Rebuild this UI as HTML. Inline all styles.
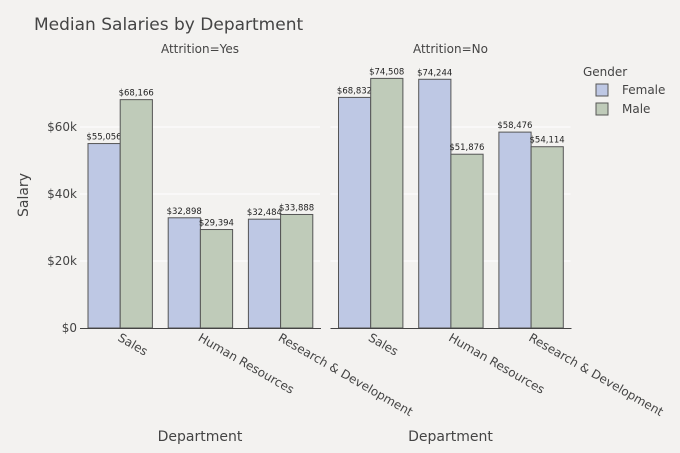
<!DOCTYPE html>
<html><head><meta charset="utf-8"><style>
body{margin:0;background:#f3f2f0;}
svg{display:block;font-family:"DejaVu Sans","Liberation Sans",sans-serif;}
</style></head><body>
<svg id="c" width="680" height="453"></svg>
<script>
const categories=["Sales","Human Resources","Research & Development"];
const facets=["Yes","No"];
const femaleYes=[55056,32898,32484];
const maleYes=[68166,29394,33888];
const femaleNo=[68832,74244,58476];
const maleNo=[74508,51876,54114];
const yTicks=[0,20000,40000,60000];
const yTickLabels=["$0","$20k","$40k","$60k"];
const NS="http://www.w3.org/2000/svg";
const svg=document.getElementById('c');
function mk(t,a,txt){const e=document.createElementNS(NS,t);for(const k in a)e.setAttribute(k,a[k]);if(txt!=null)e.textContent=txt;svg.appendChild(e);return e;}
const y0=328,pxPerUnit=67/20000;
function yS(v){return y0-v*pxPerUnit;}
const facetX=[80,330.5],band=80.2;
function xS(f,i){return facetX[f]+i*band;}
let t=mk('text',{x:34,y:30,'font-size':17,fill:'#444'},'Median Salaries by Department');

for(let f=0;f<2;f++){for(let k=1;k<yTicks.length;k++){const g=mk('line',{x1:facetX[f],x2:facetX[f]+240,y1:yS(yTicks[k]),y2:yS(yTicks[k]),stroke:'#fff','stroke-width':1});}}
yTicks.forEach((v,k)=>{const e=mk('text',{x:77,y:yS(v)+4,'font-size':12,fill:'#444','text-anchor':'end'},yTickLabels[k]);});
const series=[[femaleYes,maleYes],[femaleNo,maleNo]];
const colors=['#bec8e4','#bfcbb9'];
const fmt=v=>'$'+v.toLocaleString('en-US');
for(let f=0;f<2;f++){
 const ft=mk('text',{x:facetX[f]+120,y:53,'font-size':12,fill:'#444','text-anchor':'middle'},'Attrition='+facets[f]);
 
 for(let s=0;s<2;s++){series[f][s].forEach((v,i)=>{
  const x=xS(f,i)+8+s*32.2;
  const r=mk('rect',{x:x,y:yS(v),width:32.2,height:y0-yS(v),fill:colors[s],stroke:'#555','stroke-width':1});
  
  const l=mk('text',{x:x+16,y:yS(v)-4,'font-size':8.5,fill:'#222','text-anchor':'middle'},fmt(v));
  
 });}
 const ax=mk('line',{x1:facetX[f],x2:facetX[f]+241,y1:y0+0.5,y2:y0+0.5,stroke:'#444','stroke-width':1});
 
 categories.forEach((c,i)=>{const cx=xS(f,i)+40;
  const e=mk('text',{x:cx-3,y:y0+12,'font-size':12,fill:'#444',transform:`rotate(30 ${cx-3} ${y0+12})`},c);
  });
 const xt=mk('text',{x:facetX[f]+120,y:441,'font-size':14,fill:'#444','text-anchor':'middle'},'Department');
 
}
const yt=mk('text',{x:28,y:195,'font-size':14,fill:'#444','text-anchor':'middle',transform:'rotate(-90 28 195)'},'Salary');

const lt=mk('text',{x:583,y:76,'font-size':12,fill:'#444'},'Gender');

['Female','Male'].forEach((n,k)=>{const yy=90+k*19;
 const r=mk('rect',{x:596,y:yy-6,width:12,height:12,fill:colors[k],stroke:'#555'});
 
 const e=mk('text',{x:622,y:yy+4,'font-size':12,fill:'#444'},n);
 });
</script>
</body></html>
